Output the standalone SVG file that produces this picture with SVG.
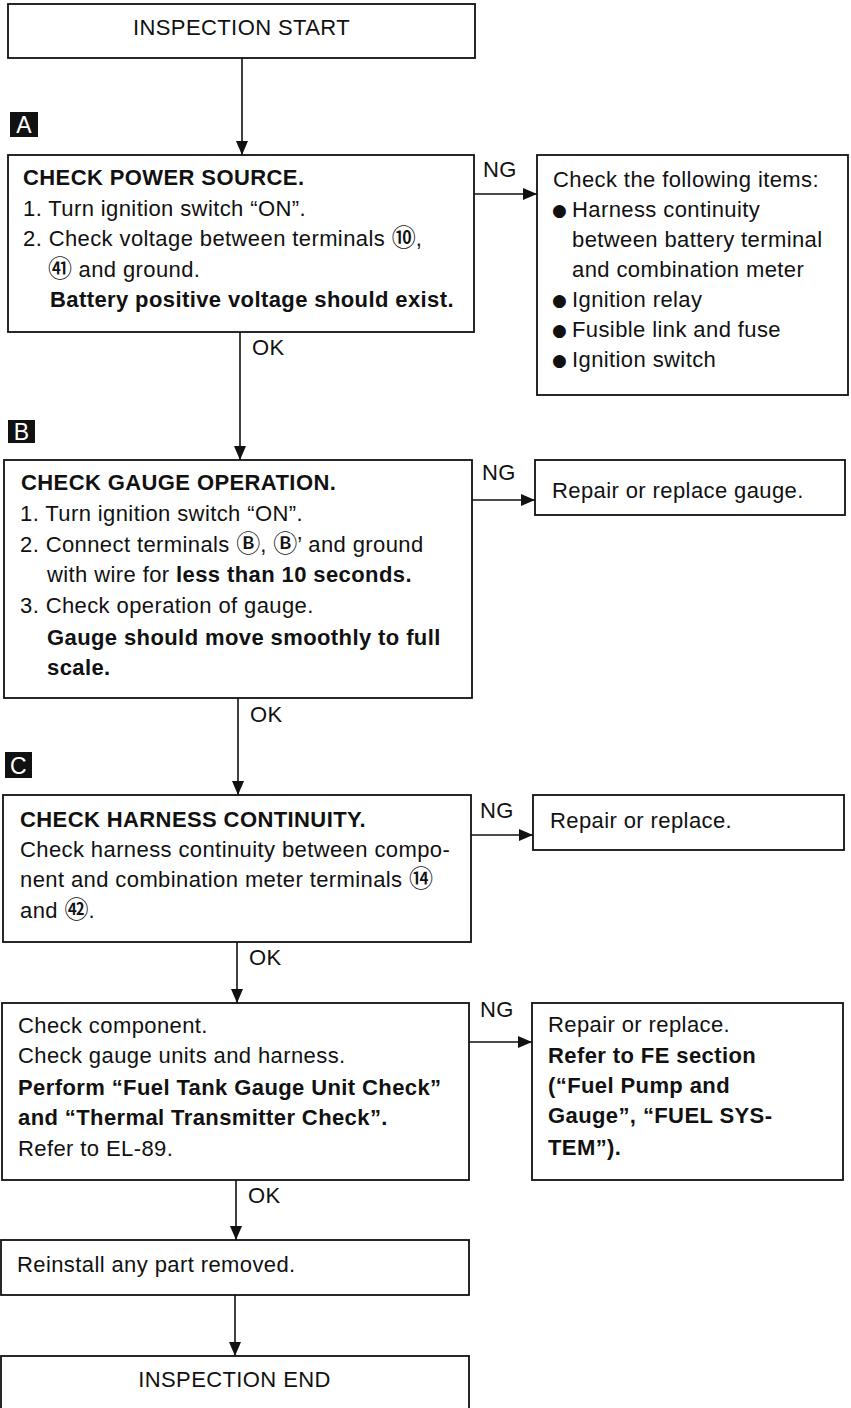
<svg xmlns="http://www.w3.org/2000/svg" width="851" height="1408" viewBox="0 0 851 1408">
<style>
text{font-family:"Liberation Sans",Arial,Helvetica,sans-serif;font-size:22px;fill:#111;letter-spacing:0.4px}
.b{font-weight:bold}
.m{text-anchor:middle}
.c{font-family:"Noto Sans CJK JP","DejaVu Sans",sans-serif;font-size:24px;font-weight:500;letter-spacing:0}
.bu{font-family:"DejaVu Sans",sans-serif;font-size:17px;letter-spacing:0}
.lbl{fill:#fff;text-anchor:middle;font-size:23px}
rect.n{fill:#fff;stroke:#111;stroke-width:1.8}
rect.tag{fill:#111}
.cn line{stroke:#111;stroke-width:1.6;marker-end:url(#ah)}
</style>
<defs>
<marker id="ah" markerUnits="userSpaceOnUse" markerWidth="14" markerHeight="12" refX="14" refY="6" orient="auto">
<path d="M0,0 L14,6 L0,12 z" fill="#111"/>
</marker>
</defs>
<rect width="851" height="1408" fill="#fff"/>

<g id="connectors" class="cn">
<line x1="242" y1="58" x2="242" y2="155"/>
<line x1="474" y1="194" x2="537" y2="194"/>
<line x1="240" y1="332" x2="240" y2="460"/>
<line x1="472" y1="500" x2="535" y2="500"/>
<line x1="238" y1="698" x2="238" y2="795"/>
<line x1="471" y1="835" x2="533" y2="835"/>
<line x1="237" y1="942" x2="237" y2="1003"/>
<line x1="469" y1="1042" x2="532" y2="1042"/>
<line x1="236" y1="1180" x2="236" y2="1240"/>
<line x1="235" y1="1295" x2="235" y2="1356"/>
</g>
<g id="connector-labels">
<text x="483" y="177">NG</text>
<text x="252" y="355">OK</text>
<text x="482" y="480">NG</text>
<text x="250" y="722">OK</text>
<text x="480" y="818">NG</text>
<text x="249" y="965">OK</text>
<text x="480" y="1017">NG</text>
<text x="248" y="1203">OK</text>
</g>

<g id="tag-A"><rect class="tag" x="10" y="112" width="28" height="25"/><text class="lbl" x="24" y="133">A</text></g>
<g id="tag-B"><rect class="tag" x="8" y="420" width="27" height="23"/><text class="lbl" x="21.5" y="440">B</text></g>
<g id="tag-C"><rect class="tag" x="5" y="752" width="27" height="26"/><text class="lbl" x="18.5" y="774">C</text></g>

<g id="start">
<rect class="n" x="8" y="4" width="467" height="54"/>
<text class="m" x="241.5" y="35">INSPECTION START</text>
</g>

<g id="checkA">
<rect class="n" x="8" y="155" width="466" height="177"/>
<text class="b" x="23" y="185">CHECK POWER SOURCE.</text>
<text x="23" y="216">1. Turn ignition switch “ON”.</text>
<text x="23" y="246">2. Check voltage between terminals <tspan class="c">⑩</tspan>,</text>
<text x="48" y="277"><tspan class="c">㊶</tspan> and ground.</text>
<text class="b" x="50" y="307">Battery positive voltage should exist.</text>
</g>

<g id="ngA">
<rect class="n" x="537" y="155" width="311" height="240"/>
<text x="553" y="187">Check the following items:</text>
<text class="bu" x="552" y="216">●</text><text x="572" y="217">Harness continuity</text>
<text x="572" y="247">between battery terminal</text>
<text x="572" y="277">and combination meter</text>
<text class="bu" x="552" y="306">●</text><text x="572" y="307">Ignition relay</text>
<text class="bu" x="552" y="336">●</text><text x="572" y="337">Fusible link and fuse</text>
<text class="bu" x="552" y="366">●</text><text x="572" y="367">Ignition switch</text>
</g>

<g id="checkB">
<rect class="n" x="4" y="460" width="468" height="238"/>
<text class="b" x="21" y="490">CHECK GAUGE OPERATION.</text>
<text x="20" y="521">1. Turn ignition switch “ON”.</text>
<text x="20" y="552">2. Connect terminals <tspan class="c">Ⓑ</tspan>, <tspan class="c">Ⓑ</tspan>’ and ground</text>
<text x="47" y="582">with wire for <tspan class="b">less than 10 seconds.</tspan></text>
<text x="20" y="613">3. Check operation of gauge.</text>
<text class="b" x="47" y="645">Gauge should move smoothly to full</text>
<text class="b" x="47" y="675">scale.</text>
</g>

<g id="ngB">
<rect class="n" x="535" y="460" width="310" height="55"/>
<text x="552" y="498">Repair or replace gauge.</text>
</g>

<g id="checkC">
<rect class="n" x="3" y="795" width="468" height="147"/>
<text class="b" x="20" y="827">CHECK HARNESS CONTINUITY.</text>
<text x="20" y="857">Check harness continuity between compo-</text>
<text x="20" y="887">nent and combination meter terminals <tspan class="c">⑭</tspan></text>
<text x="20" y="918">and <tspan class="c">㊷</tspan>.</text>
</g>

<g id="ngC">
<rect class="n" x="533" y="795" width="311" height="55"/>
<text x="550" y="828">Repair or replace.</text>
</g>

<g id="checkD">
<rect class="n" x="2" y="1003" width="467" height="177"/>
<text x="18" y="1033">Check component.</text>
<text x="18" y="1063">Check gauge units and harness.</text>
<text class="b" x="18" y="1095">Perform “Fuel Tank Gauge Unit Check”</text>
<text class="b" x="18" y="1125">and “Thermal Transmitter Check”.</text>
<text x="18" y="1156">Refer to EL-89.</text>
</g>

<g id="ngD">
<rect class="n" x="532" y="1003" width="311" height="177"/>
<text x="548" y="1032">Repair or replace.</text>
<text class="b" x="548" y="1063">Refer to FE section</text>
<text class="b" x="548" y="1093">(“Fuel Pump and</text>
<text class="b" x="548" y="1123">Gauge”, “FUEL SYS-</text>
<text class="b" x="548" y="1155">TEM”).</text>
</g>

<g id="reinstall">
<rect class="n" x="1" y="1240" width="468" height="55"/>
<text x="17" y="1272">Reinstall any part removed.</text>
</g>

<g id="end">
<rect class="n" x="1" y="1356" width="468" height="70"/>
<text class="m" x="234.5" y="1387">INSPECTION END</text>
</g>
</svg>
